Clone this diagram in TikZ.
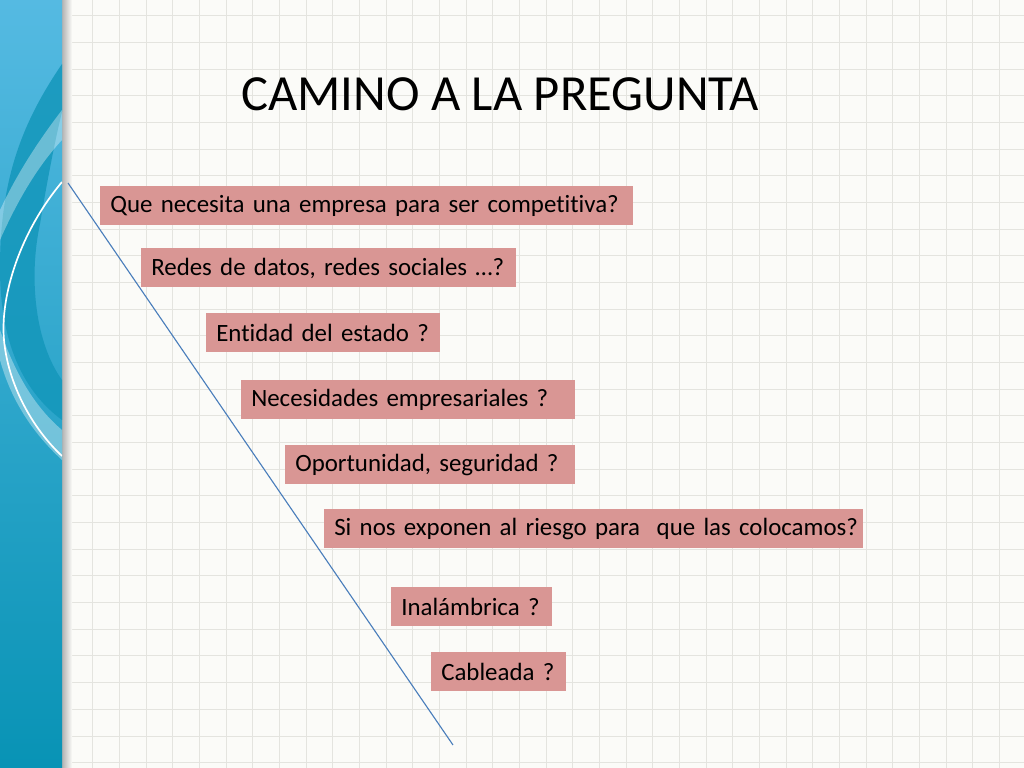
\documentclass[tikz,border=0pt]{standalone}
\usepackage{fontspec}
\setmainfont{Carlito}[Ligatures=NoCommon]
\usepackage{xcolor}
\usetikzlibrary{positioning}
\definecolor{boxpink}{HTML}{D99694}
\definecolor{gridline}{HTML}{E4E4DF}
\definecolor{paper}{HTML}{FBFBF8}
\definecolor{bandtop}{HTML}{55BAE2}
\definecolor{bandbot}{HTML}{0893B5}
\definecolor{swirl}{HTML}{1497BB}
\definecolor{pathline}{HTML}{4A7EBB}

\begin{document}
\begin{tikzpicture}[
  font=\fontsize{17.7}{21.2}\selectfont,
  qbox/.style={fill=boxpink, anchor=west, inner xsep=0.25cm, inner ysep=3pt, minimum height=0.975cm},
  title/.style={font=\fontsize{36}{43}\selectfont},
  gridl/.style={gridline, line width=0.7pt},
  wline/.style={pathline, line width=0.8pt}
]
% Paper and grid
\fill[paper] (0,0) rectangle (25.6,19.2);
\useasboundingbox (0,0) rectangle (25.6,19.2);
\foreach \x in {0,...,37} \draw[gridl] ({0.3175+0.6667*\x},0) -- ++(0,19.2);
\foreach \y in {0,...,28} \draw[gridl] (0,{0.1333+0.6667*\y}) -- ++(25.6,0);

% Left band
\shade[left color=black!30, right color=paper] (1.55,0) rectangle (1.8,19.2);
\shade[top color=bandtop, bottom color=bandbot] (0,0) rectangle (1.55,19.2);
\begin{scope}
  \clip (0,0) rectangle (1.55,19.2);
  \fill[swirl, opacity=0.85] (1.55,17.6) .. controls (0.6,16.2) and (0,14.8) .. (0,12.5)
    .. controls (0,10.6) and (0.6,9.4) .. (1.55,8.7) -- (1.55,9.7)
    .. controls (0.9,10.6) and (0.7,12.2) .. (1.0,13.6)
    .. controls (1.2,14.8) and (1.4,15.8) .. (1.55,16.4) -- cycle;
  \fill[white, opacity=0.35] (1.55,16.45) .. controls (0.9,15.6) and (0.4,14.8) .. (0,13.95)
    -- (0,13.2) .. controls (0.4,14.1) and (0.9,15.0) .. (1.55,15.7) -- cycle;
  \fill[white, opacity=0.35] (0,10.95) .. controls (0.4,9.8) and (0.9,9.0) .. (1.55,8.45)
    -- (1.55,7.7) .. controls (0.9,8.3) and (0.3,9.1) .. (0,10.2) -- cycle;
  \draw[white, line width=1.2pt] (1.55,14.65) .. controls (0.5,13.4) and (0.0,11.8) .. (0.1,10.7)
    .. controls (0.2,9.6) and (0.8,8.5) .. (1.55,7.8);
\end{scope}

% Title
\node[title] (ttl) at (12.5,16.85) {CAMINO A LA PREGUNTA};

% Path line
\coordinate (ltop) at (1.7,14.625);
\coordinate (lbot) at (11.325,0.575);
\draw[wline] (ltop) -- (lbot);

% Questions
\node[qbox, text width=12.825cm] (q1) at (2.5,14.0625) {\mbox{Que necesita una empresa para ser competitiva?}};
\node[qbox, text width=8.875cm] (q2) at (3.525,12.5) {\mbox{Redes de datos, redes sociales …?}};
\node[qbox, text width=5.35cm] (q3) at (5.15,10.8875) {\mbox{Entidad del estado ?}};
\node[qbox, text width=7.85cm] (q4) at (6.025,9.2) {\mbox{Necesidades empresariales ?}};
\node[qbox, text width=6.75cm] (q5) at (7.125,7.575) {\mbox{Oportunidad, seguridad ?}};
\node[qbox, text width=12.975cm] (q6) at (8.1,5.975) {\mbox{Si nos exponen al riesgo para\ \ que las colocamos?}};
\node[qbox, text width=3.525cm] (q7) at (9.775,4.025) {\mbox{Inalámbrica ?}};
\node[qbox, text width=2.875cm] (q8) at (10.775,2.4125) {\mbox{Cableada ?}};

\end{tikzpicture}
\end{document}
